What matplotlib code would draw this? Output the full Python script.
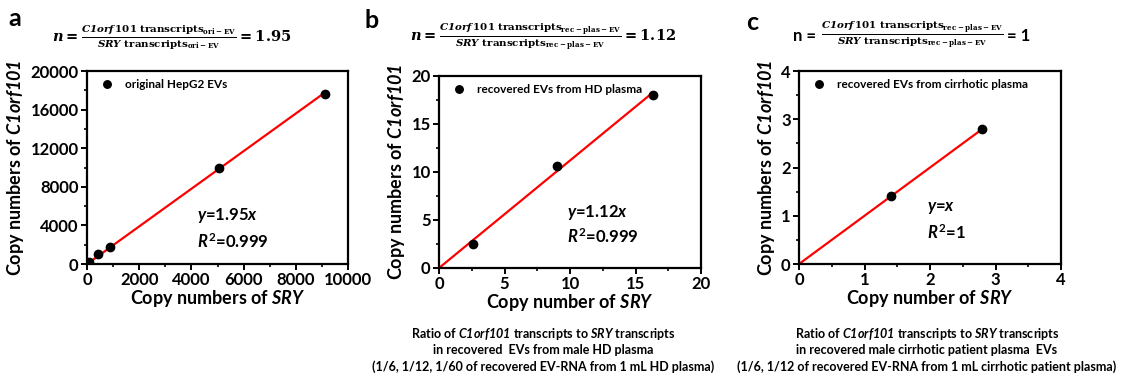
import matplotlib
matplotlib.use('Agg')
import matplotlib.pyplot as plt
import numpy as np
from matplotlib.ticker import MultipleLocator, AutoMinorLocator

plt.rcParams['font.family'] = ['Lato', 'DejaVu Sans']
plt.rcParams['font.weight'] = 'bold'
plt.rcParams['axes.labelweight'] = 'bold'
plt.rcParams['mathtext.fontset'] = 'custom'
plt.rcParams['mathtext.rm'] = 'Lato:bold'
plt.rcParams['mathtext.it'] = 'Lato:italic:bold'
plt.rcParams['mathtext.bf'] = 'Lato:bold'
# sf slot used for italic text that also has digits in it
plt.rcParams['mathtext.sf'] = 'Lato:italic:bold'

# panel a: original HepG2 EVs
sry_a = [80, 430, 880, 5060, 9120]
c1_a = [200, 1000, 1750, 9950, 17650]
slope_a = 1.95

# panel b: recovered EVs from HD plasma
sry_b = [2.6, 9.0, 16.3]
c1_b = [2.5, 10.6, 18.0]
slope_b = 1.12

# panel c: recovered EVs from cirrhotic plasma
sry_c = [1.4, 2.8]
c1_c = [1.4, 2.8]
slope_c = 1.0

fig = plt.figure(figsize=(11.26, 3.79), dpi=100)

panels = [
    dict(rect=[0.0773, 0.3034, 0.2318, 0.5092], x=sry_a, y=c1_a, k=slope_a,
         lim=(10000, 20000), xmaj=2000, ymaj=4000,
         leg='original HepG2 EVs', xlab=r'Copy numbers of $\it{SRY}$',
         eq=r'$\it{y}$=1.95$\it{x}$', r2=r'$\it{R}^{2}$=0.999', eqpos=(0.42, 0.25, 0.115)),
    dict(rect=[0.3899, 0.2929, 0.2327, 0.5066], x=sry_b, y=c1_b, k=slope_b,
         lim=(20, 20), xmaj=5, ymaj=5,
         leg='recovered EVs from HD plasma', xlab=r'Copy number of $\it{SRY}$',
         eq=r'$\it{y}$=1.12$\it{x}$', r2=r'$\it{R}^{2}$=0.999', eqpos=(0.49, 0.29, 0.165)),
    dict(rect=[0.7096, 0.3034, 0.2327, 0.5092], x=sry_c, y=c1_c, k=slope_c,
         lim=(4, 4), xmaj=1, ymaj=1,
         leg='recovered EVs from cirrhotic plasma', xlab=r'Copy number of $\it{SRY}$',
         eq=r'$\it{y}$=$\it{x}$', r2=r'$\it{R}^{2}$=1', eqpos=(0.49, 0.29, 0.165)),
]

for p in panels:
    ax = fig.add_axes(p['rect'])
    xs = np.array([0, max(p['x'])])
    ax.plot(xs, p['k'] * xs, color='#ff0000', lw=1.6, zorder=2)
    ax.plot(p['x'], p['y'], 'o', color='black', ms=6, label=p['leg'], zorder=3)
    ax.set_xlim(0, p['lim'][0])
    ax.set_ylim(0, p['lim'][1])
    ax.xaxis.set_major_locator(MultipleLocator(p['xmaj']))
    ax.yaxis.set_major_locator(MultipleLocator(p['ymaj']))
    ax.xaxis.set_minor_locator(AutoMinorLocator(2))
    ax.yaxis.set_minor_locator(AutoMinorLocator(2))
    ax.tick_params(which='major', direction='out', length=4, width=1.4, labelsize=12, pad=2)
    ax.tick_params(which='minor', direction='out', length=2.5, width=1.2)
    for s in ax.spines.values():
        s.set_linewidth(1.6)
    ax.set_xlabel(p['xlab'], fontsize=13, labelpad=0)
    ax.set_ylabel(r'Copy numbers of $\mathsf{C1orf101}$', fontsize=13, labelpad=3)
    ax.legend(loc='upper left', frameon=False, fontsize=8.5, handletextpad=0.5,
              borderaxespad=0.3, markerscale=0.9)
    ex, ey, ry = p['eqpos']
    ax.text(ex, ey, p['eq'], transform=ax.transAxes, fontsize=12, ha='left', va='center')
    ax.text(ex, ry, p['r2'], transform=ax.transAxes, fontsize=12, ha='left', va='center')

# formulas above the panels
fa = (r'$n=\frac{\mathbfit{C1orf}\,\mathbf{101\ transcripts}_{\mathbf{ori-EV}}}'
      r'{\mathbfit{SRY}\ \mathbf{transcripts}_{\mathbf{ori-EV}}}=1.95$')
fb = (r'$n=\frac{\mathbfit{C1orf}\,\mathbf{101\ transcripts}_{\mathbf{rec-plas-EV}}}'
      r'{\mathbfit{SRY}\ \mathbf{transcripts}_{\mathbf{rec-plas-EV}}}=1.12$')
fc = (r'$\frac{\mathbfit{C1orf}\,\mathbf{101\ transcripts}_{\mathbf{rec-plas-EV}}}'
      r'{\mathbfit{SRY}\ \mathbf{transcripts}_{\mathbf{rec-plas-EV}}}$')
fig.text(172 / 1126, 1 - 37 / 379, fa, fontsize=10.5, ha='center', va='center',
         math_fontfamily='dejavuserif', fontweight='normal')
fig.text(543 / 1126, 1 - 37 / 379, fb, fontsize=10.5, ha='center', va='center',
         math_fontfamily='dejavuserif', fontweight='normal')
fig.text(912 / 1126, 1 - 35 / 379, fc, fontsize=10.5, ha='center', va='center',
         math_fontfamily='dejavuserif', fontweight='normal')
fig.text(816 / 1126, 1 - 36 / 379, 'n =', fontsize=12, ha='right', va='center')
fig.text(1007 / 1126, 1 - 36 / 379, '= 1', fontsize=12, ha='left', va='center')

# panel letters
fig.text(15 / 1126, 1 - 18 / 379, 'a', fontsize=18, ha='center', va='center')
fig.text(372 / 1126, 1 - 20 / 379, 'b', fontsize=18, ha='center', va='center')
fig.text(752 / 1126, 1 - 22 / 379, 'c', fontsize=18, ha='center', va='center')

# captions
cap_b = [r'Ratio of $\mathsf{C1orf101}$ transcripts to $\it{SRY}$ transcripts',
         'in recovered  EVs from male HD plasma',
         '(1/6, 1/12, 1/60 of recovered EV-RNA from 1 mL HD plasma)']
cap_c = [r'Ratio of $\mathsf{C1orf101}$ transcripts to $\it{SRY}$ transcripts',
         'in recovered male cirrhotic patient plasma  EVs',
         '(1/6, 1/12 of recovered EV-RNA from 1 mL cirrhotic patient plasma)']
for i, (lb, lc) in enumerate(zip(cap_b, cap_c)):
    yy = 1 - (334 + 16.5 * i) / 379
    fig.text(543 / 1126, yy, lb, fontsize=9, ha='center', va='center')
    fig.text(927 / 1126, yy, lc, fontsize=9, ha='center', va='center')

fig.savefig('out.png', dpi=100)
